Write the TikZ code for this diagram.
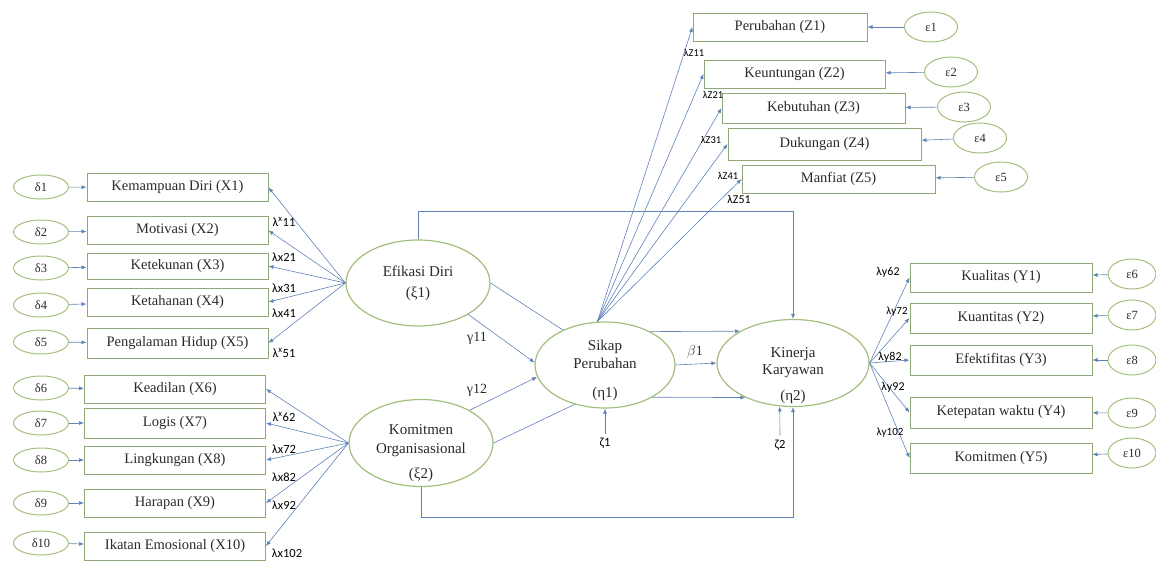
\documentclass[tikz,border=0pt]{standalone}
\usepackage{fontspec}
\setmainfont{Liberation Serif}
\newfontfamily\lamfont{Carlito}
\usetikzlibrary{shapes.geometric,arrows.meta,backgrounds}
\definecolor{boxgreen}{HTML}{8FA878}
\definecolor{ovalgreen}{HTML}{A3BF7F}
\definecolor{linkblue}{HTML}{5F82B8}
\definecolor{inkgrey}{HTML}{2A2A2A}
\tikzset{
	indbox/.style={draw=boxgreen, line width=1pt, minimum height=28pt, minimum width=181pt, inner sep=0pt, text=inkgrey, font=\fontsize{14.5}{16}\selectfont},
	erroval/.style={ellipse, draw=ovalgreen, line width=1pt, minimum width=55pt, minimum height=24pt, inner sep=0pt, text=inkgrey, font=\fontsize{12.5}{14}\selectfont},
	latoval/.style={ellipse, draw=ovalgreen, line width=1.2pt, fill=white, inner sep=0pt, align=center, text=inkgrey},
	link/.style={draw=linkblue, line width=0.6pt},
	arrlink/.style={link, -{Latex[length=5pt,width=4pt]}},
	lamlabel/.style={inner sep=0pt, text=black, font=\lamfont\fontsize{12.5}{14}\selectfont},
	coeflabel/.style={inner sep=0pt, text=inkgrey, font=\fontsize{14}{16}\selectfont}
}
\newcommand{\latext}[2]{\raisebox{#1}[0pt][0pt]{\begin{tabular}{@{}c@{}}#2\end{tabular}}}

\begin{document}
\begin{tikzpicture}[x=1pt, y=-1pt]
			%%%%% START %%%%%
			\useasboundingbox (0, 0) rectangle (1156, 560);
			
			% latent variables
			\node[latoval, minimum width=144pt, minimum height=86pt, font=\fontsize{15}{21}\selectfont] (efikasi) at (418, 283) {Efikasi Diri\\(ξ1)};
			\node[latoval, minimum width=144pt, minimum height=87pt, font=\fontsize{15}{19}\selectfont] (komitmen) at (421, 443) {\latext{-13.75pt}{Komitmen\\Organisasional\\[6pt](ξ2)}};
			\node[latoval, minimum width=140pt, minimum height=86pt, font=\fontsize{15}{18}\selectfont] (sikap) at (605, 365) {\latext{-8.75pt}{Sikap\\Perubahan\\[11pt](η1)}};
			\node[latoval, minimum width=152pt, minimum height=87pt, font=\fontsize{15}{17}\selectfont] (kinerja) at (793, 363) {\latext{-15.75pt}{Kinerja\\Karyawan\\[9pt](η2)}};
			
			% indicators of Efikasi Diri
			\node[indbox] (x1) at (177.5, 187.5) {Kemampuan Diri (X1)};
			\node[indbox] (x2) at (177.5, 230.5) {Motivasi (X2)};
			\node[indbox, minimum height=26pt] (x3) at (177.5, 266) {Ketekunan (X3)};
			\node[indbox] (x4) at (177.5, 302) {Ketahanan (X4)};
			\node[indbox, minimum height=30pt] (x5) at (177.5, 343) {Pengalaman Hidup (X5)};
			
			\node[erroval] (d1) at (41, 187) {δ1};
			\node[erroval] (d2) at (41, 232) {δ2};
			\node[erroval] (d3) at (41, 268) {δ3};
			\node[erroval] (d4) at (41, 305) {δ4};
			\node[erroval] (d5) at (41, 342) {δ5};
			
			% indicators of Komitmen Organisasional
			\node[indbox] (x6) at (175, 389) {Keadilan (X6)};
			\node[indbox, minimum height=30pt] (x7) at (175, 423) {Logis (X7)};
			\node[indbox] (x8) at (175, 460) {Lingkungan (X8)};
			\node[indbox] (x9) at (175, 503) {Harapan (X9)};
			\node[indbox] (x10) at (175, 546) {Ikatan Emosional (X10)};
			
			\node[erroval] (d6) at (41, 388) {δ6};
			\node[erroval] (d7) at (41, 423) {δ7};
			\node[erroval] (d8) at (41, 460) {δ8};
			\node[erroval] (d9) at (41, 503) {δ9};
			\node[erroval] (d10) at (41, 543) {δ10};
			
			% indicators of Sikap Perubahan
			\node[indbox, minimum width=174pt] (z1) at (780, 27) {Perubahan (Z1)};
			\node[indbox] (z2) at (794.5, 74) {Keuntungan (Z2)};
			\node[indbox, minimum width=183pt, minimum height=30pt] (z3) at (813.5, 108) {Kebutuhan (Z3)};
			\node[indbox, minimum width=193pt, minimum height=32pt] (z4) at (824.5, 144) {Dukungan (Z4)};
			\node[indbox, minimum width=193pt] (z5) at (838.5, 179) {Manfiat (Z5)};
			
			\node[erroval, minimum width=53pt, minimum height=30pt] (e1) at (931, 27) {ε1};
			\node[erroval, minimum width=53pt, minimum height=30pt] (e2) at (951, 72) {ε2};
			\node[erroval, minimum width=53pt, minimum height=30pt] (e3) at (964, 107) {ε3};
			\node[erroval, minimum width=53pt, minimum height=30pt] (e4) at (980, 138) {ε4};
			\node[erroval, minimum width=53pt, minimum height=30pt] (e5) at (1001, 177) {ε5};
			
			% indicators of Kinerja Karyawan
			\node[indbox, minimum width=182pt, minimum height=29pt] (y1) at (1001, 277.5) {Kualitas (Y1)};
			\node[indbox, minimum width=182pt, minimum height=30pt] (y2) at (1001, 318) {Kuantitas (Y2)};
			\node[indbox, minimum width=182pt, minimum height=30pt] (y3) at (1001, 360) {Efektifitas (Y3)};
			\node[indbox, minimum width=182pt, minimum height=31pt] (y4) at (1001, 412.5) {Ketepatan waktu (Y4)};
			\node[indbox, minimum width=182pt, minimum height=30pt] (y5) at (1001, 458) {Komitmen (Y5)};
			
			\node[erroval, minimum width=48pt, minimum height=30pt] (e6) at (1132, 274) {ε6};
			\node[erroval, minimum width=48pt, minimum height=30pt] (e7) at (1132, 315) {ε7};
			\node[erroval, minimum width=48pt, minimum height=30pt] (e8) at (1132, 360) {ε8};
			\node[erroval, minimum width=48pt, minimum height=30pt] (e9) at (1132, 413) {ε9};
			\node[erroval, minimum width=48pt, minimum height=30pt] (e10) at (1132, 453) {ε10};
			
			% error terms
			\draw[arrlink] (d1) -- (x1);
			\draw[arrlink] (d2) -- (x2);
			\draw[arrlink] (d3) -- (x3);
			\draw[arrlink] (d4) -- (x4);
			\draw[arrlink] (d5) -- (x5);
			\draw[arrlink] (d6) -- (x6);
			\draw[arrlink] (d7) -- (x7);
			\draw[arrlink] (d8) -- (x8);
			\draw[arrlink] (d9) -- (x9);
			\draw[arrlink] (d10) -- (x10);
			
			\draw[arrlink] (e1) -- (z1);
			\draw[arrlink] (e2) -- (z2);
			\draw[arrlink] (e3) -- (z3);
			\draw[arrlink] (e4) -- (z4);
			\draw[arrlink] (e5) -- (z5);
			\draw[arrlink] (e6) -- (y1);
			\draw[arrlink] (e7) -- (y2);
			\draw[arrlink] (e8) -- (y3);
			\draw[arrlink] (e9) -- (y4);
			\draw[arrlink] (e10) -- (y5);
			
			% loadings
			\draw[arrlink] (efikasi.west) -- (x1.east);
			\draw[arrlink] (efikasi.west) -- (x2.east);
			\draw[arrlink] (efikasi.west) -- (x3.east);
			\draw[arrlink] (efikasi.west) -- (x4.east);
			\draw[arrlink] (efikasi.west) -- (x5.east);
			
			\draw[arrlink] (komitmen.west) -- (x6.east);
			\draw[arrlink] (komitmen.west) -- (x7.east);
			\draw[arrlink] (komitmen.west) -- (x8.east);
			\draw[arrlink] (komitmen.west) -- (x9.east);
			\draw[arrlink] (komitmen.west) -- (x10.east);
			
			\draw[arrlink] (sikap.100) -- (z1.west);
			\draw[arrlink] (sikap.100) -- (z2.west);
			\draw[arrlink] (sikap.100) -- (z3.west);
			\draw[arrlink] (sikap.100) -- (z4.west);
			\draw[arrlink] (sikap.100) -- (z5.west);
			
			\draw[arrlink] (kinerja.east) -- (y1.west);
			\draw[arrlink] (kinerja.east) -- (y2.west);
			\draw[arrlink] (kinerja.east) -- (y3.west);
			\draw[arrlink] (kinerja.east) -- (y4.west);
			\draw[arrlink] (kinerja.east) -- (y5.west);
			
			\node[lamlabel] (lx11) at (284, 222) {λ\textsuperscript{x}11};
			\node[lamlabel] (lx21) at (284, 257) {λx21};
			\node[lamlabel] (lx31) at (284, 288) {λx31};
			\node[lamlabel] (lx41) at (284, 313) {λx41};
			\node[lamlabel] (lx51) at (284, 353) {λ\textsuperscript{x}51};
			\node[lamlabel] (lx62) at (284, 417) {λ\textsuperscript{x}62};
			\node[lamlabel] (lx72) at (284, 449) {λx72};
			\node[lamlabel] (lx82) at (284, 477) {λx82};
			\node[lamlabel] (lx92) at (284, 505) {λx92};
			\node[lamlabel] (lx102) at (287, 553) {λx102};
			
			\node[lamlabel, font=\lamfont\fontsize{10.5}{12}\selectfont] (lz11) at (694, 53) {λZ11};
			\node[lamlabel, font=\lamfont\fontsize{10.5}{12}\selectfont] (lz21) at (713, 95) {λZ21};
			\node[lamlabel, font=\lamfont\fontsize{10.5}{12}\selectfont] (lz31) at (711, 140) {λZ31};
			\node[lamlabel, font=\lamfont\fontsize{10.5}{12}\selectfont] (lz41) at (728, 176) {λZ41};
			\node[lamlabel, font=\lamfont\fontsize{12}{14}\selectfont] (lz51) at (739, 199) {λZ51};
			
			\node[lamlabel, font=\lamfont\fontsize{12}{14}\selectfont] (ly62) at (888, 272) {λy62};
			\node[lamlabel, font=\lamfont\fontsize{11}{13}\selectfont] (ly72) at (897, 312) {λy72};
			\node[lamlabel, font=\lamfont\fontsize{12}{14}\selectfont] (ly82) at (890, 357) {λy82};
			\node[lamlabel, font=\lamfont\fontsize{12}{14}\selectfont] (ly92) at (893, 387) {λy92};
			\node[lamlabel, font=\lamfont\fontsize{11}{13}\selectfont] (ly102) at (890, 433) {λy102};
			
			% structural paths
			\draw[arrlink] (efikasi.-32) -- (sikap.178);
			\draw[arrlink] (komitmen.34) -- (sikap.190.5);
			\draw[arrlink] (sikap.east) -- (kinerja.west);
			
			\node[coeflabel] (g11) at (477, 338) {γ11};
			\node[coeflabel] (g12) at (477, 390) {γ12};
			\node[coeflabel] (b1) at (695, 352) {$\beta$1};
			
			% direct paths behind Sikap Perubahan
			\coordinate (hidA) at (566, 332);
			\coordinate (hidB) at (590, 397);
			\begin{pgfonlayer}{background}
				\draw[arrlink] (efikasi.east) -- (hidA) -- (kinerja.149);
				\draw[arrlink] (komitmen.east) -- (hidB) -- (kinerja.216);
			\end{pgfonlayer}
			
			\draw[arrlink] (efikasi.north) -- ++(0, -28) -| (kinerja.north);
			\draw[arrlink] (komitmen.south) -- ++(0, 30.5) -| (kinerja.south);
			
			% disturbances
			\node[lamlabel, inner sep=4pt] (zeta1) at (605, 443) {ζ1};
			\node[lamlabel, inner sep=4pt] (zeta2) at (780, 445) {ζ2};
			\draw[arrlink] (zeta1.north) -- (sikap.south);
			\draw[arrlink] (zeta2.north) -- (kinerja.253);
			
			%%%%% END %%%%%
\end{tikzpicture}
\end{document}
